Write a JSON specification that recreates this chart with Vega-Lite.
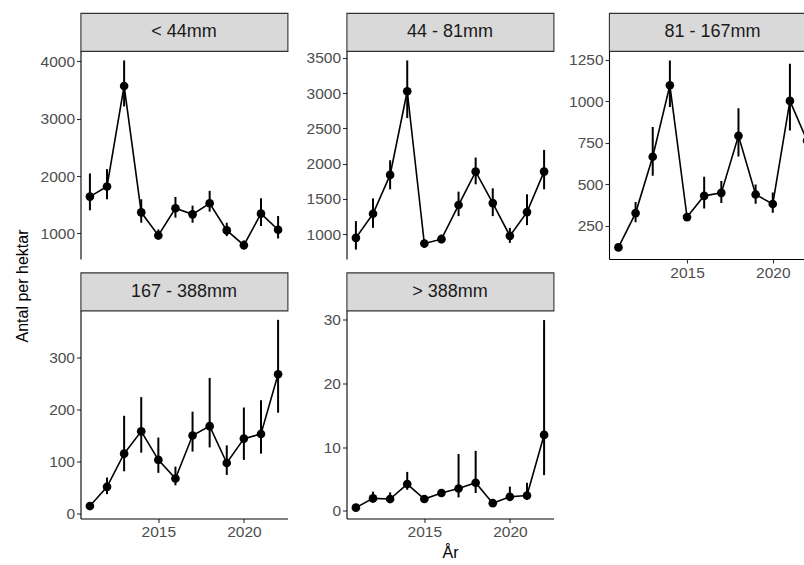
{
  "$schema": "https://vega.github.io/schema/vega-lite/v6.json",
  "padding": {"top": 12, "left": 0, "right": 0, "bottom": 0},
  "background": "white",
  "data": {"values": [
    {"size": "< 44mm", "year": 2011, "value": 1643, "lo": 1403, "hi": 2047},
    {"size": "< 44mm", "year": 2012, "value": 1819, "lo": 1596, "hi": 2123},
    {"size": "< 44mm", "year": 2013, "value": 3573, "lo": 3216, "hi": 4018},
    {"size": "< 44mm", "year": 2014, "value": 1368, "lo": 1187, "hi": 1596},
    {"size": "< 44mm", "year": 2015, "value": 965, "lo": 895, "hi": 1070},
    {"size": "< 44mm", "year": 2016, "value": 1439, "lo": 1275, "hi": 1637},
    {"size": "< 44mm", "year": 2017, "value": 1333, "lo": 1187, "hi": 1485},
    {"size": "< 44mm", "year": 2018, "value": 1526, "lo": 1380, "hi": 1743},
    {"size": "< 44mm", "year": 2019, "value": 1053, "lo": 953, "hi": 1187},
    {"size": "< 44mm", "year": 2020, "value": 795, "lo": 719, "hi": 877},
    {"size": "< 44mm", "year": 2021, "value": 1345, "lo": 1129, "hi": 1614},
    {"size": "< 44mm", "year": 2022, "value": 1064, "lo": 912, "hi": 1304},
    {"size": "44 - 81mm", "year": 2011, "value": 948, "lo": 782, "hi": 1185},
    {"size": "44 - 81mm", "year": 2012, "value": 1289, "lo": 1090, "hi": 1508},
    {"size": "44 - 81mm", "year": 2013, "value": 1840, "lo": 1636, "hi": 2048},
    {"size": "44 - 81mm", "year": 2014, "value": 3026, "lo": 2646, "hi": 3463},
    {"size": "44 - 81mm", "year": 2015, "value": 867, "lo": 806, "hi": 924},
    {"size": "44 - 81mm", "year": 2016, "value": 929, "lo": 872, "hi": 995},
    {"size": "44 - 81mm", "year": 2017, "value": 1413, "lo": 1256, "hi": 1603},
    {"size": "44 - 81mm", "year": 2018, "value": 1887, "lo": 1707, "hi": 2086},
    {"size": "44 - 81mm", "year": 2019, "value": 1441, "lo": 1256, "hi": 1650},
    {"size": "44 - 81mm", "year": 2020, "value": 976, "lo": 877, "hi": 1090},
    {"size": "44 - 81mm", "year": 2021, "value": 1313, "lo": 1128, "hi": 1565},
    {"size": "44 - 81mm", "year": 2022, "value": 1887, "lo": 1636, "hi": 2195},
    {"size": "81 - 167mm", "year": 2011, "value": 118, "lo": 100, "hi": 135},
    {"size": "81 - 167mm", "year": 2012, "value": 325, "lo": 270, "hi": 392},
    {"size": "81 - 167mm", "year": 2013, "value": 665, "lo": 551, "hi": 844},
    {"size": "81 - 167mm", "year": 2014, "value": 1096, "lo": 965, "hi": 1246},
    {"size": "81 - 167mm", "year": 2015, "value": 301, "lo": 280, "hi": 322},
    {"size": "81 - 167mm", "year": 2016, "value": 429, "lo": 352, "hi": 545},
    {"size": "81 - 167mm", "year": 2017, "value": 447, "lo": 386, "hi": 518},
    {"size": "81 - 167mm", "year": 2018, "value": 791, "lo": 667, "hi": 957},
    {"size": "81 - 167mm", "year": 2019, "value": 437, "lo": 382, "hi": 498},
    {"size": "81 - 167mm", "year": 2020, "value": 380, "lo": 327, "hi": 449},
    {"size": "81 - 167mm", "year": 2021, "value": 1002, "lo": 823, "hi": 1226},
    {"size": "81 - 167mm", "year": 2022, "value": 762, "lo": 690, "hi": 840},
    {"size": "167 - 388mm", "year": 2011, "value": 14, "lo": 8, "hi": 19},
    {"size": "167 - 388mm", "year": 2012, "value": 51, "lo": 37, "hi": 69},
    {"size": "167 - 388mm", "year": 2013, "value": 115, "lo": 81, "hi": 188},
    {"size": "167 - 388mm", "year": 2014, "value": 158, "lo": 117, "hi": 224},
    {"size": "167 - 388mm", "year": 2015, "value": 103, "lo": 78, "hi": 146},
    {"size": "167 - 388mm", "year": 2016, "value": 67, "lo": 54, "hi": 90},
    {"size": "167 - 388mm", "year": 2017, "value": 150, "lo": 119, "hi": 196},
    {"size": "167 - 388mm", "year": 2018, "value": 168, "lo": 127, "hi": 261},
    {"size": "167 - 388mm", "year": 2019, "value": 97, "lo": 74, "hi": 131},
    {"size": "167 - 388mm", "year": 2020, "value": 144, "lo": 103, "hi": 204},
    {"size": "167 - 388mm", "year": 2021, "value": 153, "lo": 115, "hi": 218},
    {"size": "167 - 388mm", "year": 2022, "value": 268, "lo": 194, "hi": 373},
    {"size": "> 388mm", "year": 2011, "value": 0.5, "lo": 0.3, "hi": 0.7},
    {"size": "> 388mm", "year": 2012, "value": 1.95, "lo": 1.3, "hi": 3.0},
    {"size": "> 388mm", "year": 2013, "value": 1.85, "lo": 1.2, "hi": 2.9},
    {"size": "> 388mm", "year": 2014, "value": 4.2, "lo": 3.3, "hi": 6.1},
    {"size": "> 388mm", "year": 2015, "value": 1.85, "lo": 1.6, "hi": 2.2},
    {"size": "> 388mm", "year": 2016, "value": 2.8, "lo": 2.3, "hi": 3.3},
    {"size": "> 388mm", "year": 2017, "value": 3.5, "lo": 2.1, "hi": 8.9},
    {"size": "> 388mm", "year": 2018, "value": 4.4, "lo": 2.8, "hi": 9.4},
    {"size": "> 388mm", "year": 2019, "value": 1.2, "lo": 1.0, "hi": 1.5},
    {"size": "> 388mm", "year": 2020, "value": 2.2, "lo": 1.6, "hi": 3.8},
    {"size": "> 388mm", "year": 2021, "value": 2.4, "lo": 1.7, "hi": 4.4},
    {"size": "> 388mm", "year": 2022, "value": 11.9, "lo": 5.6, "hi": 29.9}
  ]},
  "spacing": 8.5,
  "hconcat": [
    {
      "width": 30, "height": 546,
      "data": {"values": [{"t": "Antal per hektar"}]},
      "mark": {"type": "text", "angle": 270, "baseline": "top", "font": "Liberation Sans", "fontSize": 16, "color": "#000000"},
      "encoding": {"text": {"field": "t"}},
      "view": {"stroke": null}
    },
    {
      "spacing": 17,
      "hconcat": [
        {
          "spacing": 12.5,
          "vconcat": [
            {
              "bounds": "flush", "spacing": 0,
              "vconcat": [
                {"width": 207, "height": 38, "data": {"values": [{"t": "< 44mm"}]},
                 "mark": {"type": "text", "font": "Liberation Sans", "fontSize": 18, "color": "#1a1a1a"},
                 "encoding": {"text": {"field": "t"}},
                 "view": {"fill": "#d9d9d9", "stroke": "#333333", "strokeWidth": 1.1}},
                {"width": 207, "height": 208,
                 "transform": [{"filter": "datum.size === '< 44mm'"}],
                 "encoding": {"x": {"field": "year", "type": "quantitative", "scale": {"domain": [2010.45, 2022.55], "nice": false, "zero": false}, "axis": null}},
                 "layer": [
                   {"mark": {"type": "rule", "color": "black", "strokeWidth": 2},
                    "encoding": {"y": {"field": "lo", "type": "quantitative", "scale": {"domain": [554, 4183], "nice": false, "zero": false}, "axis": {"values": [1000, 2000, 3000, 4000], "format": "d", "title": null}}, "y2": {"field": "hi"}}},
                   {"mark": {"type": "line", "color": "black", "strokeWidth": 1.6}, "encoding": {"y": {"field": "value", "type": "quantitative"}}},
                   {"mark": {"type": "point", "filled": true, "color": "black", "size": 75, "opacity": 1}, "encoding": {"y": {"field": "value", "type": "quantitative"}}}
                 ]}
              ]
            },
            {
              "bounds": "flush", "spacing": 0,
              "vconcat": [
                {"width": 207, "height": 38, "data": {"values": [{"t": "167 - 388mm"}]},
                 "mark": {"type": "text", "font": "Liberation Sans", "fontSize": 18, "color": "#1a1a1a"},
                 "encoding": {"text": {"field": "t"}},
                 "view": {"fill": "#d9d9d9", "stroke": "#333333", "strokeWidth": 1.1}},
                {"width": 207, "height": 208,
                 "transform": [{"filter": "datum.size === '167 - 388mm'"}],
                 "encoding": {"x": {"field": "year", "type": "quantitative", "scale": {"domain": [2010.45, 2022.55], "nice": false, "zero": false}, "axis": {"values": [2015, 2020], "format": "d", "title": null}}},
                 "layer": [
                   {"mark": {"type": "rule", "color": "black", "strokeWidth": 2},
                    "encoding": {"y": {"field": "lo", "type": "quantitative", "scale": {"domain": [-10, 391], "nice": false, "zero": false}, "axis": {"values": [0, 100, 200, 300], "format": "d", "title": null}}, "y2": {"field": "hi"}}},
                   {"mark": {"type": "line", "color": "black", "strokeWidth": 1.6}, "encoding": {"y": {"field": "value", "type": "quantitative"}}},
                   {"mark": {"type": "point", "filled": true, "color": "black", "size": 75, "opacity": 1}, "encoding": {"y": {"field": "value", "type": "quantitative"}}}
                 ]}
              ]
            }
          ]
        },
        {
          "spacing": 13.5,
          "hconcat": [
            {
              "spacing": 12.5,
              "vconcat": [
                {
                  "bounds": "flush", "spacing": 0,
                  "vconcat": [
                    {"width": 207, "height": 38, "data": {"values": [{"t": "44 - 81mm"}]},
                     "mark": {"type": "text", "font": "Liberation Sans", "fontSize": 18, "color": "#1a1a1a"},
                     "encoding": {"text": {"field": "t"}},
                     "view": {"fill": "#d9d9d9", "stroke": "#333333", "strokeWidth": 1.1}},
                    {"width": 207, "height": 208,
                     "transform": [{"filter": "datum.size === '44 - 81mm'"}],
                     "encoding": {"x": {"field": "year", "type": "quantitative", "scale": {"domain": [2010.45, 2022.55], "nice": false, "zero": false}, "axis": null}},
                     "layer": [
                       {"mark": {"type": "rule", "color": "black", "strokeWidth": 2},
                        "encoding": {"y": {"field": "lo", "type": "quantitative", "scale": {"domain": [648, 3597], "nice": false, "zero": false}, "axis": {"values": [1000, 1500, 2000, 2500, 3000, 3500], "format": "d", "title": null}}, "y2": {"field": "hi"}}},
                       {"mark": {"type": "line", "color": "black", "strokeWidth": 1.6}, "encoding": {"y": {"field": "value", "type": "quantitative"}}},
                       {"mark": {"type": "point", "filled": true, "color": "black", "size": 75, "opacity": 1}, "encoding": {"y": {"field": "value", "type": "quantitative"}}}
                     ]}
                  ]
                },
                {
                  "bounds": "flush", "spacing": 0,
                  "vconcat": [
                    {"width": 207, "height": 38, "data": {"values": [{"t": "> 388mm"}]},
                     "mark": {"type": "text", "font": "Liberation Sans", "fontSize": 18, "color": "#1a1a1a"},
                     "encoding": {"text": {"field": "t"}},
                     "view": {"fill": "#d9d9d9", "stroke": "#333333", "strokeWidth": 1.1}},
                    {"width": 207, "height": 208,
                     "transform": [{"filter": "datum.size === '> 388mm'"}],
                     "encoding": {"x": {"field": "year", "type": "quantitative", "scale": {"domain": [2010.45, 2022.55], "nice": false, "zero": false}, "axis": {"values": [2015, 2020], "format": "d", "title": "År"}}},
                     "layer": [
                       {"mark": {"type": "rule", "color": "black", "strokeWidth": 2},
                        "encoding": {"y": {"field": "lo", "type": "quantitative", "scale": {"domain": [-1.2, 31.4], "nice": false, "zero": false}, "axis": {"values": [0, 10, 20, 30], "format": "d", "title": null}}, "y2": {"field": "hi"}}},
                       {"mark": {"type": "line", "color": "black", "strokeWidth": 1.6}, "encoding": {"y": {"field": "value", "type": "quantitative"}}},
                       {"mark": {"type": "point", "filled": true, "color": "black", "size": 75, "opacity": 1}, "encoding": {"y": {"field": "value", "type": "quantitative"}}}
                     ]}
                  ]
                }
              ]
            },
            {
              "bounds": "flush", "spacing": 0,
              "vconcat": [
                {"width": 195.5, "height": 38, "data": {"values": [{"t": "81 - 167mm"}]},
                 "mark": {"type": "text", "font": "Liberation Sans", "fontSize": 18, "color": "#1a1a1a", "dx": 5.8},
                 "encoding": {"text": {"field": "t"}},
                 "view": {"fill": "#d9d9d9", "stroke": "#333333", "strokeWidth": 1.1}},
                {"width": 195.5, "height": 208,
                 "transform": [{"filter": "datum.size === '81 - 167mm'"}],
                 "encoding": {"x": {"field": "year", "type": "quantitative", "scale": {"domain": [2010.45, 2021.85], "nice": false, "zero": false}, "axis": {"values": [2015, 2020], "format": "d", "title": null}}},
                 "layer": [
                   {"mark": {"type": "rule", "color": "black", "strokeWidth": 2, "clip": true},
                    "encoding": {"y": {"field": "lo", "type": "quantitative", "scale": {"domain": [48, 1303], "nice": false, "zero": false}, "axis": {"values": [250, 500, 750, 1000, 1250], "format": "d", "title": null}}, "y2": {"field": "hi"}}},
                   {"mark": {"type": "line", "color": "black", "strokeWidth": 1.6, "clip": true}, "encoding": {"y": {"field": "value", "type": "quantitative"}}},
                   {"mark": {"type": "point", "filled": true, "color": "black", "size": 75, "opacity": 1, "clip": true}, "encoding": {"y": {"field": "value", "type": "quantitative"}}}
                 ]}
              ]
            }
          ]
        }
      ]
    }
  ],
  "config": {
    "view": {"stroke": null},
    "axis": {
      "grid": false,
      "domainColor": "#000000",
      "domainWidth": 1.1,
      "tickColor": "#333333",
      "tickWidth": 1.1,
      "tickSize": 4,
      "labelColor": "#4d4d4d",
      "labelFont": "Liberation Sans",
      "labelFontSize": 15.5,
      "labelPadding": 2,
      "titleFont": "Liberation Sans",
      "titleFontSize": 16,
      "titleFontWeight": "normal",
      "titleColor": "#000000",
      "titlePadding": 4
    }
  }
}
